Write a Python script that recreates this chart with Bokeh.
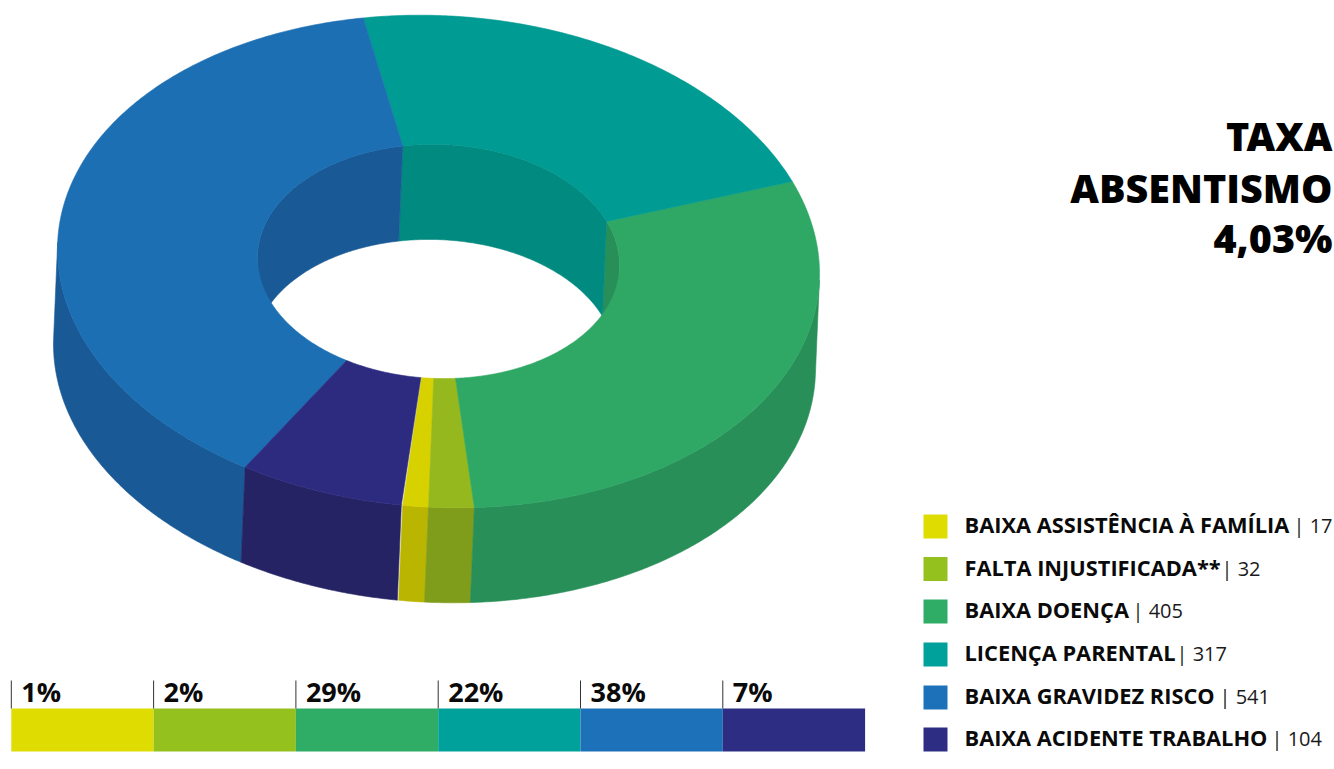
import numpy as np
from bokeh.plotting import figure
from bokeh.core.properties import value
from bokeh.embed import file_html
from bokeh.resources import INLINE

categories = ["BAIXA ASSISTÊNCIA À FAMÍLIA", "FALTA INJUSTIFICADA**", "BAIXA DOENÇA",
              "LICENÇA PARENTAL", "BAIXA GRAVIDEZ RISCO", "BAIXA ACIDENTE TRABALHO"]
counts = [17, 32, 405, 317, 541, 104]
percent_labels = ["1%", "2%", "29%", "22%", "38%", "7%"]
# slice sizes as drawn in the picture (degrees of the ring)
slice_degrees = [3.9, 6.9, 106.4, 79.6, 138.1, 24.9]
title_lines = ["TAXA", "ABSENTISMO", "4,03%"]

swatch_colors = ["#dedc00", "#95c11f", "#2fac66", "#00a19a", "#1d71b8", "#2d2e83"]
top_colors = ["#d7d100", "#95b81e", "#2fa765", "#009b92", "#1d6fb4", "#2d2b80"]
wall_colors = ["#bab500", "#7f9c1a", "#288f58", "#008a80", "#195a96", "#252364"]

# layout (page pixels)
CX, CY, RX, RY = 438, 261, 381, 246
IRX, IRY = 181, 117
TILT_O, TILT_I = 0.032, 0.02
DX, DY = -4, 95
START = 95.4
FONT = value("Open Sans")
HEAVY = value("Noto Sans Black, Open Sans ExtraBold, Open Sans")


def up(size):
    # distance the alphabetic baseline sits below the requested y
    return 0.41 * size


p = figure(width=1334, height=769, x_range=(0, 1334), y_range=(769, 0),
           output_backend="svg", toolbar_location=None, min_border=0,
           outline_line_color=None, background_fill_color="white")
p.axis.visible = False
p.grid.visible = False

bounds = START - np.cumsum([0] + slice_degrees)


def arc(a0, a1, rx, ry, tilt, dx=0, dy=0):
    t = np.radians(np.linspace(a0, a1, max(int(abs(a1 - a0) * 2), 2) + 1))
    ex = rx * np.cos(t)
    return CX + dx + ex, CY + dy + ry * np.sin(t) + tilt * ex


def sweep(rx, ry, tilt, lo, hi):
    """Walls of every slice, restricted to the visible angle range lo..hi."""
    xs, ys, cs = [], [], []
    for a0, a1, c in zip(bounds[:-1], bounds[1:], wall_colors):
        b0, b1 = min(a0, hi), max(a1, lo)
        if b0 <= b1:
            continue
        x1, y1 = arc(b0, b1, rx, ry, tilt)
        x2, y2 = arc(b0, b1, rx, ry, tilt, DX, DY)
        xs.append(np.r_[x1, x2[::-1]].tolist())
        ys.append(np.r_[y1, y2[::-1]].tolist())
        cs.append(c)
    return xs, ys, cs


def draw(xs, ys, colors):
    p.patches(xs, ys, fill_color=colors, line_color=colors, line_width=0.6)


# tangent angle of the extrusion direction on the ellipse
tan_o = np.degrees(np.arctan2(-DX * RY, (DY - TILT_O * DX) * RX))
tan_i = np.degrees(np.arctan2(-DX * IRY, (DY - TILT_I * DX) * IRX))

# outer wall: front half (two angle windows because the angles run past -180)
draw(*sweep(RX, RY, TILT_O, tan_o, START))
draw(*sweep(RX, RY, TILT_O, START - 360, tan_o - 180))
# inner wall: back half
draw(*sweep(IRX, IRY, TILT_I, tan_i - 180, tan_i))

xs, ys = [], []
for a0, a1 in zip(bounds[:-1], bounds[1:]):
    x1, y1 = arc(a0, a1, RX, RY, TILT_O)
    x2, y2 = arc(a0, a1, IRX, IRY, TILT_I)
    xs.append(np.r_[x1, x2[::-1]].tolist())
    ys.append(np.r_[y1, y2[::-1]].tolist())
draw(xs, ys, top_colors)

# stacked equal band at the bottom
BAR_L, BAR_W, BAR_T, BAR_B, TICK_T = 10.8, 142.3, 708, 751, 680
idx = np.arange(len(percent_labels))
lefts = BAR_L + idx * BAR_W
p.quad(left=lefts, right=lefts + BAR_W, top=BAR_T, bottom=BAR_B,
       fill_color=swatch_colors, line_color=None)
p.segment(x0=lefts, x1=lefts, y0=TICK_T, y1=BAR_T, line_color="#333333", line_width=1)
p.text(x=lefts + 10, y=[702 - up(27)] * 6, text=percent_labels, text_font=FONT, text_font_style="bold",
       text_font_size="27px", text_color="#0a0a0a", text_baseline="alphabetic", text_align="left")

# legend
leg_y = [526, 568.5, 611, 654, 697, 739]
leg_base = np.array([533, 576, 618, 661, 704, 746])
sep_x = [1293, 1221, 1132, 1176, 1219, 1271]
p.rect(x=[935] * 6, y=leg_y, width=24, height=24, fill_color=swatch_colors, line_color=None)
p.text(x=[964] * 6, y=leg_base - up(22), text=categories, text_font=FONT, text_font_style="bold",
       text_font_size="21.8px", text_color="#0a0a0a", text_baseline="alphabetic")
p.text(x=sep_x, y=leg_base - up(20), text=[f"| {c}" for c in counts], text_font=FONT,
       text_font_size="20px", text_color="#1a1a1a", text_baseline="alphabetic")

# title
p.text(x=[1332] * 3, y=np.array([152, 204, 254]) - up(40), text=title_lines, text_font=HEAVY,
       text_font_style="bold", text_font_size="39.5px", text_color="#000000",
       text_align="right", text_baseline="alphabetic")

open("out.html", "w").write(file_html(p, INLINE))
